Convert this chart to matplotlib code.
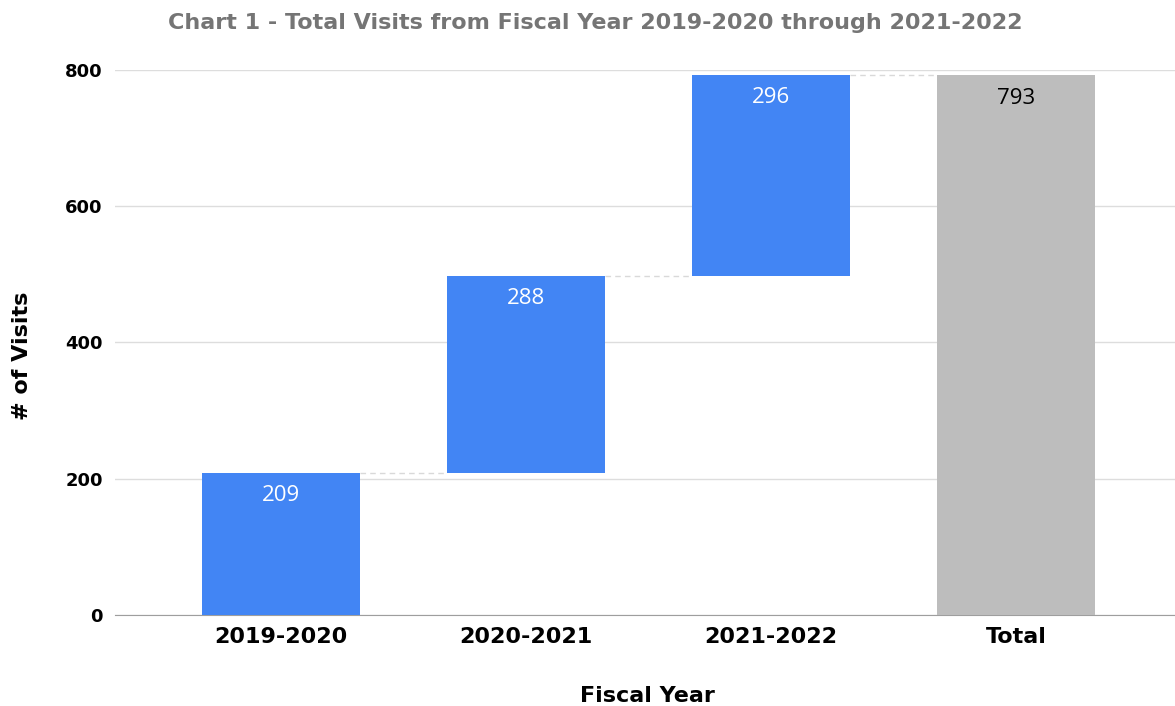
import matplotlib.pyplot as plt

# data
categories = ["2019-2020", "2020-2021", "2021-2022", "Total"]
changes = [209, 288, 296]
total = 793

bar_blue = "#4285f4"
bar_gray = "#bdbdbd"

fig = plt.figure(figsize=(11.75, 7.06), dpi=100)
ax = fig.add_axes([0.098, 0.129, 0.902, 0.772])

width = 0.645
bottoms = []
running = 0
for v in changes:
    bottoms.append(running)
    running += v

# waterfall bars
for i, v in enumerate(changes):
    ax.bar(i, v, bottom=bottoms[i], width=width, color=bar_blue, zorder=3)
    ax.text(i, bottoms[i] + v - 33, str(v), ha="center", va="center",
            color="white", fontsize=16, family="Open Sans", zorder=4)
ax.bar(3, total, width=width, color=bar_gray, zorder=3)
ax.text(3, total - 35, str(total), ha="center", va="center",
        color="black", fontsize=16, family="Open Sans", zorder=4)

# connector lines
levels = [bottoms[i] + changes[i] for i in range(len(changes))]
for i, lv in enumerate(levels):
    ax.plot([i + width / 2, i + 1 - width / 2], [lv, lv], color="#d9d9d9",
            linestyle=(0, (4, 3)), linewidth=1, zorder=2)

ax.set_xlim(-0.678, 3.649)
ax.set_ylim(0, 800)
ax.set_yticks([0, 200, 400, 600, 800])
ax.set_xticks(range(len(categories)))
ax.set_xticklabels(categories)

ax.grid(axis="y", color="#dddddd", linewidth=1, zorder=0)
ax.set_axisbelow(True)
for s in ["top", "right", "left"]:
    ax.spines[s].set_visible(False)
ax.spines["bottom"].set_color("#9e9e9e")
ax.tick_params(axis="both", length=0)
ax.tick_params(axis="x", pad=9)
ax.tick_params(axis="y", pad=9)

for lbl in ax.get_xticklabels():
    lbl.set_fontfamily("DejaVu Sans")
    lbl.set_fontweight("bold")
    lbl.set_fontsize(16)
for lbl in ax.get_yticklabels():
    lbl.set_fontfamily("DejaVu Sans")
    lbl.set_fontweight("bold")
    lbl.set_fontsize(13)

ax.set_xlabel("Fiscal Year", fontsize=16, fontweight="bold",
              family="DejaVu Sans", va="center")
ax.set_ylabel("# of Visits", fontsize=16, fontweight="bold",
              family="DejaVu Sans", va="center")
ax.xaxis.set_label_coords(0.502, -0.149)
ax.yaxis.set_label_coords(-0.0877, 0.475)

fig.text(0.507, 0.967, "Chart 1 - Total Visits from Fiscal Year 2019-2020 through 2021-2022",
         ha="center", va="center", fontsize=16, fontweight="bold",
         family="DejaVu Sans", color="#757575")

fig.savefig("out.png", dpi=100)
